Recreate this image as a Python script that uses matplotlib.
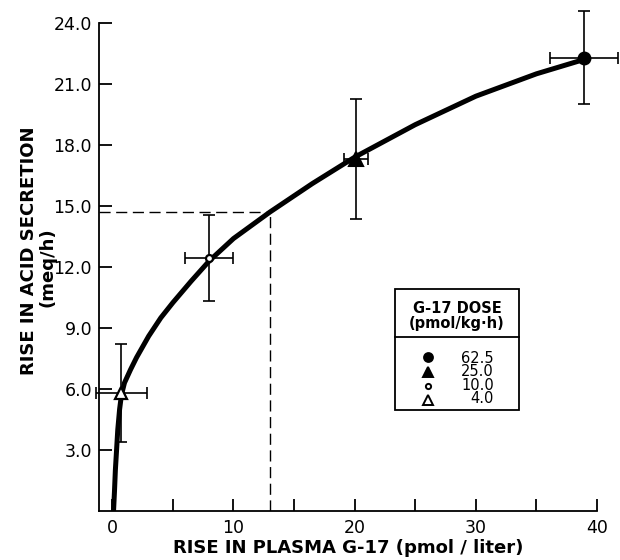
#!/usr/bin/env python3
"""Dose-response: rise in acid secretion vs rise in plasma G-17."""

import matplotlib

matplotlib.use("Agg")
import matplotlib.pyplot as plt
from matplotlib.patches import Rectangle

plt.rcParams["font.family"] = ["DejaVu Sans"]

# dose groups (pmol/kg.h) and their mean +/- error
doses = ["62.5", "25.0", "10.0", "4.0"]
g17 = [38.9, 20.1, 8.0, 0.75]
g17_err = [2.8, 1.0, 2.0, 2.1]
acid = [22.3, 17.3, 12.45, 5.8]
acid_err = [2.3, 2.95, 2.1, 2.4]
markers = ["o", "^", "o", "^"]
filled = [True, True, False, False]
msizes = [8.5, 10, 5, 9]

# fitted curve
curve_x = [0.1, 0.18, 0.25, 0.35, 0.45, 0.6, 0.75, 1.0, 1.5, 2.0, 3.0, 4.0,
           5.0, 6.5, 8.0, 10.0, 13.0, 16.5, 20.0, 25.0, 30.0, 35.0, 38.9]
curve_y = [0.0, 1.0, 2.0, 3.0, 4.0, 5.0, 5.7, 6.3, 6.95, 7.55, 8.6, 9.5,
           10.25, 11.3, 12.3, 13.4, 14.7, 16.1, 17.4, 19.0, 20.4, 21.5, 22.2]

# half-maximal reference point
ref_x = 13.0
ref_y = 14.7

xticks = [0, 5, 10, 15, 20, 25, 30, 35, 40]
xlabels = ["0", "", "10", "", "20", "", "30", "", "40"]
yticks = [3, 6, 9, 12, 15, 18, 21, 24]

fig = plt.figure(figsize=(6.2, 5.6), dpi=100)
ax = fig.add_axes([99 / 620, 1 - 511 / 560, 498 / 620, 488 / 560])

ax.plot(curve_x, curve_y, color="black", linewidth=3.6,
        solid_capstyle="round", solid_joinstyle="round", zorder=3)

ax.plot([-1.1, ref_x], [ref_y, ref_y], color="black", linewidth=1.0,
        dashes=(8, 4))
ax.plot([ref_x, ref_x], [0, ref_y], color="black", linewidth=1.0,
        dashes=(8, 4))

for i in range(len(doses)):
    ax.errorbar(g17[i], acid[i], xerr=g17_err[i], yerr=acid_err[i],
                fmt="none", ecolor="black", elinewidth=1.2, capsize=4,
                capthick=1.2, clip_on=False, zorder=2)
    ax.plot(g17[i], acid[i], marker=markers[i], markersize=msizes[i],
            markerfacecolor="black" if filled[i] else "white",
            markeredgecolor="black", markeredgewidth=1.5 if filled[i] else 1.6,
            linestyle="none", clip_on=False, zorder=4)

ax.set_xlim(-1.1, 40)
ax.set_ylim(0, 24)
ax.spines["top"].set_visible(False)
ax.spines["right"].set_visible(False)
for s in ("left", "bottom"):
    ax.spines[s].set_linewidth(1.3)

ax.set_xticks(xticks)
ax.set_xticklabels(xlabels)
ax.set_yticks(yticks)
ax.set_yticklabels([f"{v:.1f}" for v in yticks])
ax.tick_params(direction="in", length=9, width=1.3, labelsize=12.5, pad=5)
ax.tick_params(axis="x", pad=6)

ax.set_xlabel("RISE IN PLASMA G-17 (pmol / liter)", fontsize=13,
              fontweight="bold", labelpad=1)


# figure pixel helpers for hand-placed text and the legend box
def fx(px):
    return px / 620


def fy(py):
    return 1 - py / 560


fig.text(fx(29), fy(251), "RISE IN ACID SECRETION", rotation=90,
         ha="center", va="center", fontsize=13, fontweight="bold")
fig.text(fx(47), fy(267), "(meq/h)", rotation=90,
         ha="center", va="center", fontsize=13, fontweight="bold")

fig.patches.append(Rectangle((fx(395), fy(410)), fx(519) - fx(395),
                             fy(289) - fy(410), transform=fig.transFigure,
                             fill=False, edgecolor="black", linewidth=1.3))
fig.lines.append(plt.Line2D([fx(395), fx(519)], [fy(337), fy(337)],
                            transform=fig.transFigure, color="black",
                            linewidth=1.3))
fig.text(fx(457), fy(316), "G-17 DOSE\n(pmol/kg\u00b7h)", ha="center",
         va="center", fontsize=10.5, fontweight="bold", linespacing=1.0)
row_y = [357, 371.5, 386, 400]
for i in range(len(doses)):
    fig.lines.append(plt.Line2D([fx(428)], [fy(row_y[i])],
                                transform=fig.transFigure,
                                marker=markers[i],
                                markersize=msizes[i] * 0.75,
                                markerfacecolor="black" if filled[i] else "white",
                                markeredgecolor="black", markeredgewidth=1.4,
                                linestyle="none"))
fig.text(fx(494), fy(378.5), "\n".join(doses), ha="right", va="center",
         fontsize=10.5, linespacing=0.85)

fig.savefig("out.png", dpi=100)
